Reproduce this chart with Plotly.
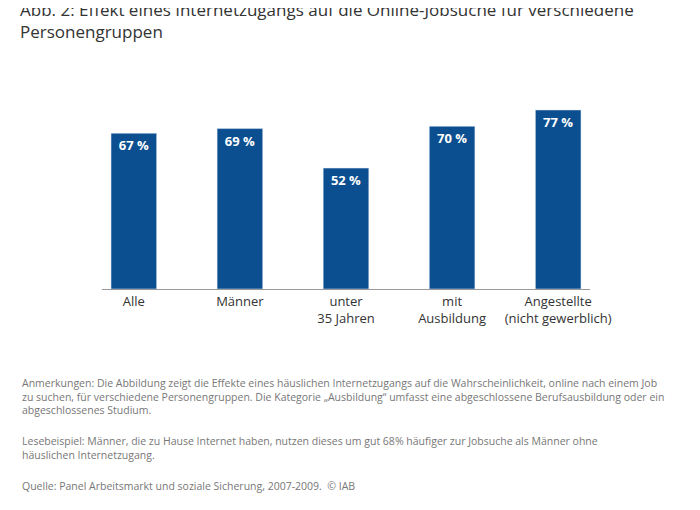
import plotly.graph_objects as go

categories = ["Alle", "Männer", "unter<br>35 Jahren", "mit<br>Ausbildung", "Angestellte<br>(nicht gewerblich)"]
values = [67, 69, 52, 70, 77]
value_labels = ["67 %", "69 %", "52 %", "70 %", "77 %"]

title = "Abb. 2: Effekt eines Internetzugangs auf die Online-Jobsuche für verschiedene<br>Personengruppen"
notes = ("Anmerkungen: Die Abbildung zeigt die Effekte eines häuslichen Internetzugangs auf die Wahrscheinlichkeit, online nach einem Job<br>"
         "zu suchen, für verschiedene Personengruppen. Die Kategorie „Ausbildung“ umfasst eine abgeschlossene Berufsausbildung oder ein<br>"
         "abgeschlossenes Studium.")
example = ("Lesebeispiel: Männer, die zu Hause Internet haben, nutzen dieses um gut 68% häufiger zur Jobsuche als Männer ohne<br>"
           "häuslichen Internetzugang.")
source = "Quelle: Panel Arbeitsmarkt und soziale Sicherung, 2007-2009.  © IAB"

# page body adds an 8px offset, so the figure is drawn 8px smaller and shifted
OFF = 8
W, H = 700 - OFF, 510 - OFF
L, R, T = 102 - OFF, 110, 103 - OFF
B = H - (289 - OFF)
pw, ph = W - L - R, H - T - B

def px(x):
    return (x - OFF - L) / pw

def py(y):
    return (H - B - (y - OFF)) / ph

fig = go.Figure(go.Bar(
    x=list(range(len(values))), y=values, width=0.43,
    marker_color="#0b4f91",
    text=value_labels, textposition="inside", insidetextanchor="end",
    textfont=dict(color="white", size=13, family="Open Sans"),
))
fig.update_traces(texttemplate="<b>%{text}</b>")

font = dict(family="Open Sans", color="#777777", size=10.5)
fig.add_annotation(text=notes, x=px(20), y=py(374), xref="paper", yref="paper",
                   xanchor="left", yanchor="top", showarrow=False, align="left", font=font)
fig.add_annotation(text=example, x=px(20), y=py(432), xref="paper", yref="paper",
                   xanchor="left", yanchor="top", showarrow=False, align="left", font=font)
fig.add_annotation(text=source, x=px(20), y=py(477), xref="paper", yref="paper",
                   xanchor="left", yanchor="top", showarrow=False, align="left", font=font)

fig.update_layout(
    width=W, height=H, margin=dict(l=L, r=R, t=T, b=B),
    paper_bgcolor="white", plot_bgcolor="white", showlegend=False,
    title=dict(text=title, x=(20 - OFF) / W, xanchor="left", y=1 - (16 - OFF) / H, yanchor="top",
               font=dict(family="Open Sans", size=17, color="#333333")),
    xaxis=dict(tickvals=list(range(len(values))), ticktext=categories, range=[-0.3, 4.3],
               showline=True, linecolor="#999999", linewidth=1, ticks="",
               tickfont=dict(family="Open Sans", size=13, color="#333333")),
    yaxis=dict(range=[0, 80], visible=False),
)

fig.write_html("out.html")
